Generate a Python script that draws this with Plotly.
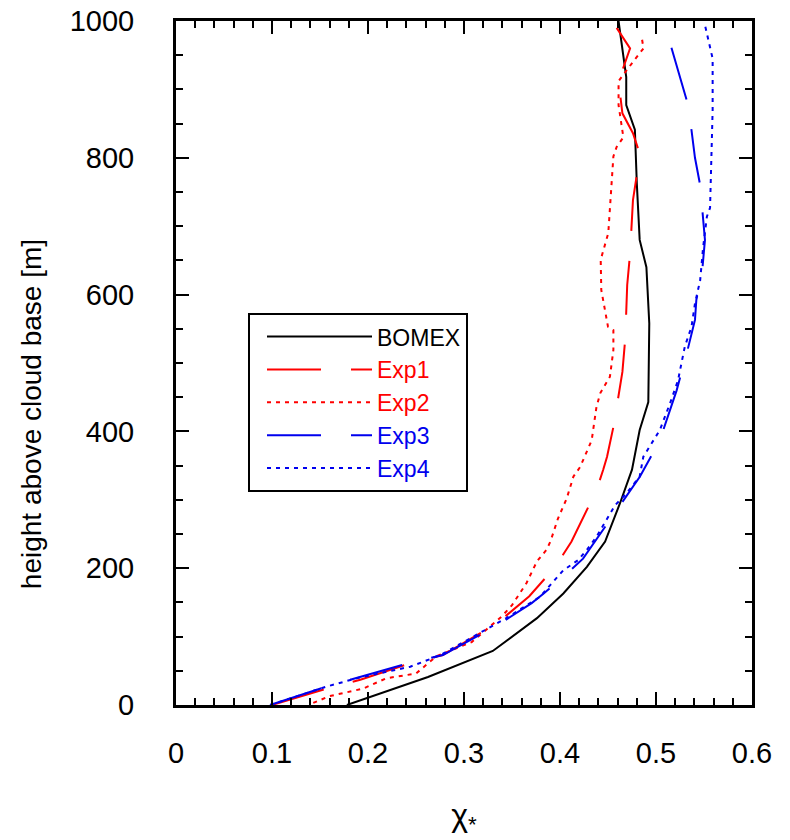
import plotly.graph_objects as go

# ---- data ----
bomex_x = [0.178, 0.2625, 0.330, 0.376, 0.4035, 0.428, 0.447, 0.4625, 0.475, 0.483, 0.492, 0.493, 0.490, 0.483, 0.480, 0.479, 0.478, 0.469, 0.469, 0.461]
bomex_y = [0, 41, 79, 127, 163, 202, 239, 295, 344, 402, 443, 558, 640, 680, 763, 804, 841, 877, 918, 1000]

exp1_x = [0.100, 0.157, 0.192, 0.244, 0.278, 0.334, 0.368, 0.395, 0.412, 0.428, 0.438, 0.445, 0.449, 0.456, 0.465, 0.468, 0.470, 0.473, 0.476, 0.481, 0.484, 0.476, 0.465, 0.461, 0.473, 0.459]
exp1_y = [0, 24, 37, 61, 73, 119, 159, 202, 239, 285, 314, 344, 363, 409, 487, 536, 614, 660, 738, 784, 802, 836, 865, 912, 960, 990]

exp2_x = [0.143, 0.160, 0.195, 0.219, 0.250, 0.271, 0.308, 0.339, 0.350, 0.365, 0.376, 0.386, 0.390, 0.398, 0.407, 0.414, 0.421, 0.433, 0.438, 0.442, 0.452, 0.4556, 0.4556, 0.450, 0.443, 0.4424, 0.4503, 0.452, 0.4556, 0.459, 0.466, 0.461, 0.461, 0.4764, 0.487, 0.485]
exp2_y = [3, 13, 24, 39, 46, 71, 92, 129, 146, 178, 210, 227, 239, 273, 302, 334, 348, 387, 436, 456, 480, 519, 548, 553, 607, 651, 690, 730, 802, 816, 830, 877, 912, 941, 960, 977]

exp3_x = [0.098, 0.157, 0.247, 0.278, 0.3375, 0.3705, 0.383, 0.407, 0.424, 0.468, 0.4833, 0.504, 0.5215, 0.532, 0.5406, 0.542, 0.548, 0.551, 0.549, 0.546, 0.5406, 0.537, 0.532, 0.516, 0.508]
exp3_y = [0, 27, 63, 73, 119, 149, 163, 192, 214, 302, 334, 387, 460, 514, 563, 592, 633, 680, 714, 760, 800, 840, 884, 962, 1000]

exp4_x = [0.098, 0.157, 0.188, 0.244, 0.2663, 0.278, 0.344, 0.365, 0.379, 0.3896, 0.4035, 0.419, 0.428, 0.438, 0.4573, 0.469, 0.483, 0.4868, 0.504, 0.5146, 0.523, 0.530, 0.537, 0.5406, 0.546, 0.549, 0.553, 0.5563, 0.558, 0.559, 0.559, 0.5545, 0.551]
exp4_y = [0, 27, 39, 56, 68, 75, 127, 146, 158, 175, 197, 212, 227, 246, 292, 309, 334, 363, 402, 441, 475, 524, 553, 587, 621, 668, 714, 727, 797, 870, 945, 974, 994]

FONT = "Liberation Sans, Arial, sans-serif"
LONGDASH = "54px,30px"
DOTTED = "4px,5px"

series = [
    ("BOMEX", bomex_x, bomex_y, "black", "solid"),
    ("Exp1", exp1_x, exp1_y, "#ff0000", LONGDASH),
    ("Exp2", exp2_x, exp2_y, "#ff0000", DOTTED),
    ("Exp3", exp3_x, exp3_y, "#0000ee", LONGDASH),
    ("Exp4", exp4_x, exp4_y, "#0000ee", DOTTED),
]

fig = go.Figure()
for name, xs, ys, col, dash in series:
    fig.add_trace(go.Scatter(
        x=xs, y=ys, mode="lines",
        name=f"<span style='color:{col}'>{name}</span>",
        line=dict(color=col, width=2, dash=dash),
    ))

axis_common = dict(
    showline=True, linecolor="black", linewidth=3, mirror="allticks",
    ticks="inside", ticklen=13, tickwidth=2, tickcolor="black",
    showgrid=False, zeroline=False, automargin=False,
    tickfont=dict(family=FONT, size=29, color="black"),
)

fig.update_xaxes(
    range=[0, 0.6], dtick=0.1, tick0=0,
    minor=dict(dtick=0.02, ticks="inside", ticklen=7, tickwidth=2, tickcolor="black", showgrid=False),
    ticklabelstandoff=20,
    title=dict(text="χ<sub>*</sub>", font=dict(family=FONT, size=32, color="black"), standoff=36),
    **axis_common,
)
fig.update_yaxes(
    range=[0, 1000], dtick=200, tick0=0,
    minor=dict(dtick=50, ticks="inside", ticklen=7, tickwidth=2, tickcolor="black", showgrid=False),
    ticklabelstandoff=33,
    **axis_common,
)

fig.add_annotation(
    text="height above cloud base [m]", textangle=-90,
    xref="paper", yref="paper", x=-0.252, y=0.425,
    xanchor="center", yanchor="middle", showarrow=False,
    font=dict(family=FONT, size=28, color="black"),
)

fig.update_layout(
    width=790, height=840,
    margin=dict(l=176, r=38, t=21, b=135),
    paper_bgcolor="white", plot_bgcolor="white",
    font=dict(family=FONT, color="black"),
    showlegend=True,
    legend=dict(
        x=0.125, y=0.573, xanchor="left", yanchor="top",
        bgcolor="white", bordercolor="black", borderwidth=2,
        font=dict(family=FONT, size=23, color="black"),
        itemwidth=105, indentation=12, tracegroupgap=0,
    ),
)

fig.write_html("out.html")
